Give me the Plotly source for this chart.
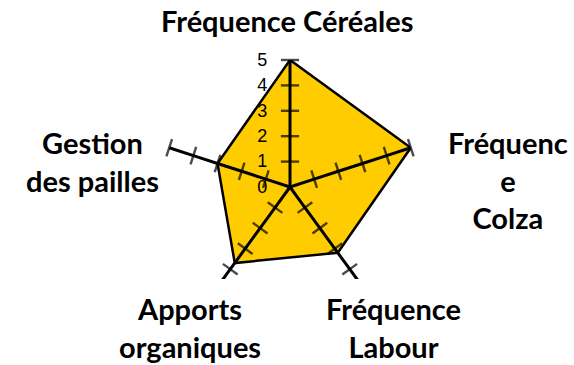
import plotly.graph_objects as go

# Data
categories = ["Fréquence Céréales", "Fréquence Colza", "Fréquence Labour",
              "Apports organiques", "Gestion des pailles"]
label_texts = ["Fréquence Céréales", "Fréquenc<br>e<br>Colza", "Fréquence<br>Labour",
               "Apports<br>organiques", "Gestion<br>des pailles"]
values = [5, 5, 3.2, 3.7, 3]
tick_values = [0, 1, 2, 3, 4, 5]

W, H = 574, 365
cx, cy, R = 290, 187, 127  # pixel center / radius of the radar

fig = go.Figure()

# Filled polygon
fig.add_trace(go.Scatterpolar(
    r=values + [values[0]],
    theta=categories + [categories[0]],
    mode="lines",
    fill="toself",
    fillcolor="#FFCC00",
    line=dict(color="black", width=2.5),
    hoverinfo="skip",
))

# Spokes with tick marks
n = len(categories)
for i, c in enumerate(categories):
    ang = i * 360.0 / n
    fig.add_trace(go.Scatterpolar(
        r=tick_values,
        theta=[c] * len(tick_values),
        mode="lines+markers",
        line=dict(color="black", width=3),
        marker=dict(symbol="line-ew", size=[0] + [13] * (len(tick_values) - 1),
                    angle=ang, color="black",
                    line=dict(color="black", width=2.4)),
        hoverinfo="skip",
    ))

fig.update_layout(
    width=W, height=H,
    margin=dict(l=0, r=0, t=0, b=0),
    paper_bgcolor="white",
    showlegend=False,
    polar=dict(
        domain=dict(x=[(cx - R) / W, (cx + R) / W],
                    y=[(H - cy - R) / H, (H - cy + R) / H]),
        bgcolor="rgba(0,0,0,0)",
        angularaxis=dict(rotation=90, direction="clockwise", showgrid=False,
                         showline=False, showticklabels=False, ticks=""),
        radialaxis=dict(range=[0, 5], angle=90, tickangle=90, showgrid=False, showline=False,
                        ticks="outside", ticklen=16, tickcolor="rgba(0,0,0,0)",
                        tickvals=tick_values, side="counterclockwise",
                        tickfont=dict(family="Liberation Sans, Arial", size=18, color="black")),
    ),
)

# Clip area below the plot area (as in the original chart)
fig.add_shape(type="rect", xref="paper", yref="paper", x0=0, x1=1,
              y0=0, y1=(H - 279) / H, fillcolor="white", line=dict(width=0),
              layer="above")

# Category labels
label_pos = [(287, 20), (508, 180), (393, 327), (190, 327), (92, 161)]
for txt, (px, py) in zip(label_texts, label_pos):
    fig.add_annotation(text=txt, x=px / W, y=1 - py / H, xref="paper", yref="paper",
                       showarrow=False, xanchor="center", yanchor="middle",
                       font=dict(family="Lato", size=29, color="black", weight="bold"))

fig.write_html("out.html", config={"displayModeBar": False},
               post_script="document.body.style.margin='0';")
